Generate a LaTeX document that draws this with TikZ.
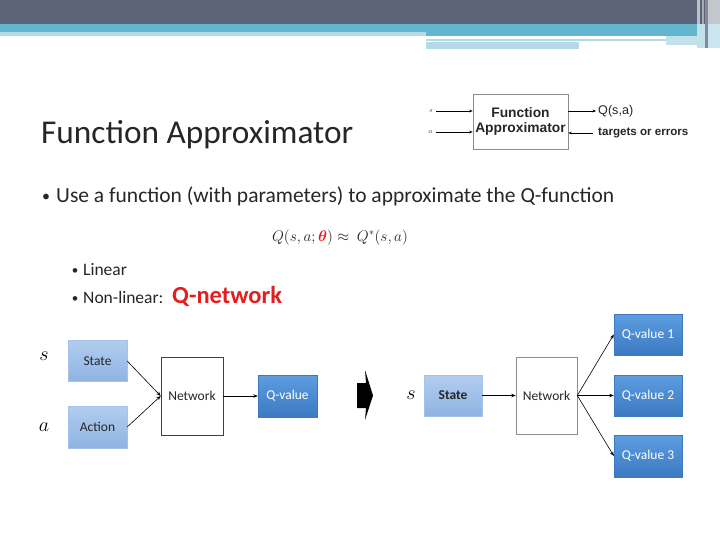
\RequirePackage{fix-cm}
\documentclass[tikz,border=0pt]{standalone}
\usepackage{amsmath}
\usepackage{fontspec}
\setmainfont{Carlito}
\newfontfamily\arialf{Liberation Sans}
\usetikzlibrary{arrows.meta}
\definecolor{bandDark}{HTML}{5C6379}
\definecolor{bandTeal}{HTML}{63B4CD}
\definecolor{bandLight}{HTML}{B3DAE6}
\definecolor{bandGray}{HTML}{C4C6CE}
\definecolor{lightTop}{HTML}{B2CDEF}
\definecolor{lightBot}{HTML}{8EB3E2}
\definecolor{darkTop}{HTML}{5E9DE0}
\definecolor{darkBot}{HTML}{3C79C2}
\definecolor{txt}{HTML}{262626}
\definecolor{qred}{HTML}{E41E1E}
\tikzset{
  lightbox/.style={top color=lightTop, bottom color=lightBot, draw=lightBot!80!white, line width=0.4pt, inner sep=0pt, font=\fontsize{13.5}{15}\selectfont, text=txt},
  darkbox/.style={top color=darkTop, bottom color=darkBot, draw=darkBot, line width=0.4pt, inner sep=0pt, font=\fontsize{13.5}{15}\selectfont, text=white},
  netbox/.style={fill=white, draw=black!75, line width=0.6pt, inner sep=0pt, font=\fontsize{13.5}{15}\selectfont, text=txt},
  conn/.style={line width=0.6pt, -{Stealth[length=4.5pt,width=3.5pt]}},
  smallconn/.style={line width=0.5pt, -{Stealth[length=3.5pt,width=2.8pt]}},
}
\begin{document}
\begin{tikzpicture}[x=1pt,y=-1pt]
\useasboundingbox (0,0) rectangle (720,540);
\fill[white] (0,0) rectangle (720,540);
% top banner
\fill[bandDark] (0,0) rectangle (720,24);
\fill[bandTeal] (0,24) rectangle (720,32);
\fill[bandLight] (0,32) rectangle (426,36);
\fill[bandTeal] (426,32) rectangle (697,36);
\fill[bandLight] (426,38.7) rectangle (666,41.3);
\fill[bandLight] (426,42) rectangle (579,48.7);
\fill[bandLight!80!white] (666,36) rectangle (697,45);
\fill[white!60!bandDark] (697,0) rectangle (700,48);
\fill[white!45!bandDark] (702,0) rectangle (704,48);
\fill[white!25!bandDark] (705,0) rectangle (708,48);
\fill[bandGray] (708,0) rectangle (720,24);
\fill[bandLight!70!white] (708,24) rectangle (720,48);
\fill[white!60!bandTeal] (697,24) rectangle (705,48);

% title
\node[anchor=base west, inner sep=0pt, text=txt, font=\fontsize{33.3}{38}\selectfont] (title) at (41,144) {Function Approximator};

% top-right figure
\node[draw=black!45, line width=0.6pt, minimum width=95pt, minimum height=55pt, inner sep=0pt, align=center,
      font=\arialf\bfseries\fontsize{13.8}{15.5}\selectfont, text=txt] (fa) at (520.5,121.5) {Function\\Approximator};
\coordinate (sin) at (436,111);
\coordinate (ain) at (436,132);
\coordinate (qout) at (596,111);
\coordinate (fbin) at (593,133);
\node[anchor=east, inner sep=0pt, font=\fontsize{7}{8}\selectfont\itshape, text=black!70] (slab) at (433,111) {$s$};
\node[anchor=east, inner sep=0pt, font=\fontsize{7}{8}\selectfont, text=black!70] (alab) at (433,132) {$a$};
\draw[smallconn] (sin) -- (sin -| fa.west);
\draw[smallconn] (ain) -- (ain -| fa.west);
\draw[smallconn] (qout -| fa.east) -- (qout);
\draw[smallconn] (fbin) -- (fbin -| fa.east);
\node[anchor=west, inner sep=0pt, font=\arialf\fontsize{12.6}{14}\selectfont, text=txt] (qsa) at (598,111) {Q(s,a)};
\node[anchor=west, inner sep=0pt, font=\arialf\bfseries\fontsize{11.6}{13}\selectfont, text=txt] (tgt) at (598,133) {targets or errors};

% bullets
\node[anchor=base, inner sep=0pt, text=txt, font=\fontsize{16}{18}\selectfont] (b1) at (46,202) {•};
\node[anchor=base west, inner sep=0pt, text=txt, font=\fontsize{21.5}{24}\selectfont] (t1) at (56,203) {Use a function (with parameters) to approximate the Q-function};
\node[anchor=base, inner sep=0pt, text=txt, font=\fontsize{15.3}{18}\selectfont] (eq) at (340,241) {$Q(s,a;{\color{qred}\boldsymbol{\theta}})\approx\ Q^{*}(s,a)$};
\node[anchor=base, inner sep=0pt, text=txt, font=\fontsize{13}{15}\selectfont] (b2) at (75,274) {•};
\node[anchor=base west, inner sep=0pt, text=txt, font=\fontsize{17.5}{20}\selectfont] (t2) at (83,275) {Linear};
\node[anchor=base, inner sep=0pt, text=txt, font=\fontsize{13}{15}\selectfont] (b3) at (75,302) {•};
\node[anchor=base west, inner sep=0pt, text=txt, font=\fontsize{17.5}{20}\selectfont] (t3) at (83,303) {Non-linear:};
\node[anchor=base west, inner sep=0pt, text=qred, font=\bfseries\fontsize{24.5}{26}\selectfont] (t4) at (172,303) {Q-network};

% left diagram
\node[font=\fontsize{20}{22}\selectfont, inner sep=0pt] (sL) at (44,356) {$s$};
\node[font=\fontsize{20}{22}\selectfont, inner sep=0pt] (aL) at (44,427) {$a$};
\node[lightbox, minimum width=59pt, minimum height=41pt] (stL) at (97.5,361) {State};
\node[lightbox, minimum width=59pt, minimum height=42pt] (acL) at (97.5,427) {Action};
\node[netbox, minimum width=62pt, minimum height=78pt] (nL) at (192,396) {Network};
\node[darkbox, minimum width=59pt, minimum height=42pt] (qL) at (287.5,396) {Q-value};
\draw[conn] (stL.east) -- (nL.west);
\draw[conn] (acL.east) -- (nL.west);
\draw[conn] (nL.east) -- (qL.west);

% big arrow
\fill[black] (357,383) -- (366,383) -- (365,370) -- (373,395.5) -- (365,420) -- (366,408) -- (357,408) -- cycle;

% right diagram
\node[font=\fontsize{20}{22}\selectfont, inner sep=0pt] (sR) at (411,395) {$s$};
\node[lightbox, minimum width=58pt, minimum height=41pt, font=\bfseries\fontsize{13.5}{15}\selectfont] (stR) at (453,395.5) {State};
\node[netbox, draw=black!45, minimum width=61pt, minimum height=77pt] (nR) at (546.5,395.5) {Network};
\node[darkbox, minimum width=68pt, minimum height=41pt] (q1) at (648,334.5) {Q-value 1};
\node[darkbox, minimum width=68pt, minimum height=41pt] (q2) at (648,395.5) {Q-value 2};
\node[darkbox, minimum width=68pt, minimum height=42pt] (q3) at (648,456) {Q-value 3};
\draw[conn] (stR.east) -- (nR.west);
\draw[conn] (nR.east) -- (q1.west);
\draw[conn] (nR.east) -- (q2.west);
\draw[conn] (nR.east) -- (q3.west);
\end{tikzpicture}
\end{document}
